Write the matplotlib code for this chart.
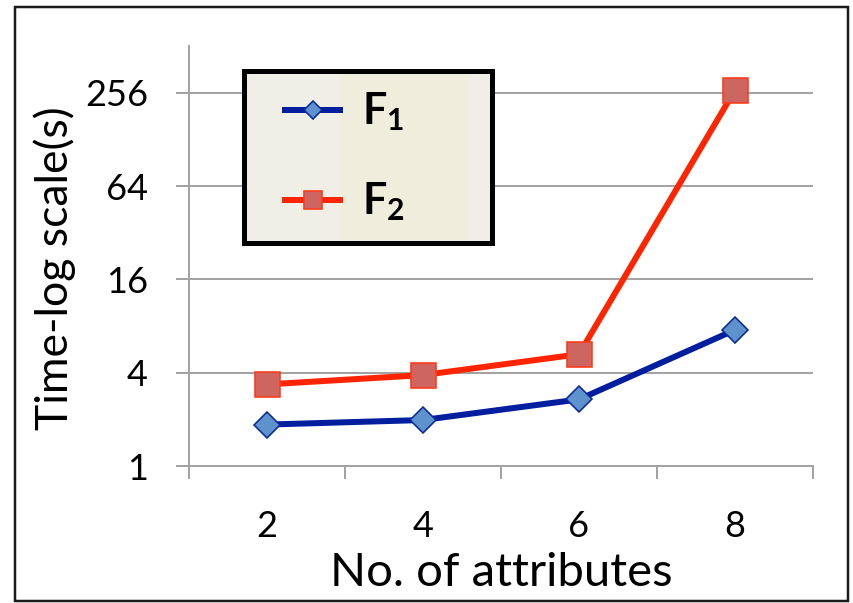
import matplotlib
matplotlib.use("Agg")
import matplotlib.pyplot as plt
from matplotlib.patches import Rectangle
from matplotlib.ticker import FixedLocator, NullFormatter, FixedFormatter

# ---- data ----
categories = ["2", "4", "6", "8"]
f1_values = [1.85, 1.98, 2.69, 7.55]
f2_values = [3.36, 3.86, 5.26, 266]
y_ticks = [1, 4, 16, 64, 256]
y_tick_labels = ["1", "4", "16", "64", "256"]
series_names = ["F$_\\mathbf{1}$", "F$_\\mathbf{2}$"]

plt.rcParams['font.family'] = ['Lato', 'DejaVu Sans']
plt.rcParams['mathtext.fontset'] = 'custom'
plt.rcParams['mathtext.rm'] = 'Lato'
plt.rcParams['mathtext.bf'] = 'Lato:bold'
plt.rcParams['mathtext.it'] = 'Lato:italic'

W, H = 854, 603
dpi = 100
fig = plt.figure(figsize=(W / dpi, H / dpi), dpi=dpi)
px = 72.0 / dpi  # points per pixel

def fx(x):
    return x / W

def fy(y):
    return 1 - y / H

ax_l, ax_r, ax_t, ax_b = 189, 813, 46, 466
ax = fig.add_axes([fx(ax_l), fy(ax_b), (ax_r - ax_l) / W, (ax_b - ax_t) / H])

grid_col = "#A3A3A3"
xs = list(range(len(categories)))

ax.set_yscale('log', base=2)
ax.set_ylim(1, 512)
ax.set_xlim(-0.5, len(categories) - 0.5)

ax.yaxis.set_major_locator(FixedLocator(y_ticks))
ax.yaxis.set_major_formatter(FixedFormatter(y_tick_labels))
ax.yaxis.set_minor_locator(FixedLocator([]))
ax.grid(axis='y', color=grid_col, linewidth=2.0 * px, zorder=0)

ax.xaxis.set_major_locator(FixedLocator([i - 0.5 for i in range(len(categories) + 1)]))
ax.xaxis.set_major_formatter(NullFormatter())
ax.xaxis.set_minor_locator(FixedLocator(xs))
ax.xaxis.set_minor_formatter(FixedFormatter(categories))

ax.tick_params(axis='x', which='major', length=13 * px, width=2 * px, color=grid_col, direction='out')
ax.tick_params(axis='x', which='minor', length=0, labelsize=26, pad=31 * px + 13 * px)
ax.tick_params(axis='y', which='major', length=13 * px, width=2 * px, color=grid_col, labelsize=26, pad=28 * px)

for s in ['top', 'right']:
    ax.spines[s].set_visible(False)
for s in ['left', 'bottom']:
    ax.spines[s].set_color(grid_col)
    ax.spines[s].set_linewidth(2.0 * px)

l1, = ax.plot(xs, f1_values, color="#001E9E", linewidth=6 * px, marker='D',
              markersize=13, markerfacecolor="#5E92CC", markeredgecolor="#0A2A9A",
              markeredgewidth=1.6 * px, zorder=3, clip_on=False)
l2, = ax.plot(xs, f2_values, color="#FF2400", linewidth=6 * px, marker='s',
              markersize=18, markerfacecolor="#CD6560", markeredgecolor="#FF3A1A",
              markeredgewidth=1.6 * px, zorder=3, clip_on=False)

ax.set_xlabel("No. of attributes", fontsize=34)
ax.xaxis.set_label_coords(0.5, -(586 - ax_b) / (ax_b - ax_t), transform=ax.transAxes)
ax.xaxis.label.set_va('baseline')
ax.set_ylabel("Time-log scale(s)", fontsize=32)
ax.yaxis.set_label_coords((55 - ax_l) / (ax_r - ax_l), (ax_b - 268) / (ax_b - ax_t))
ax.yaxis.label.set_va('center')

# legend box
lx0, ly0, lx1, ly1 = 244, 71, 492, 243
fig.add_artist(Rectangle((fx(lx0), fy(ly1)), (lx1 - lx0) / W, (ly1 - ly0) / H,
                         transform=fig.transFigure, facecolor="#EFEFE7",
                         edgecolor="none", zorder=5))
fig.add_artist(Rectangle((fx(340), fy(ly1 - 3)), (468 - 340) / W, (ly1 - ly0 - 6) / H,
                         transform=fig.transFigure, facecolor="#EFEEDC",
                         edgecolor="none", zorder=5))
fig.add_artist(Rectangle((fx(lx0), fy(ly1)), (lx1 - lx0) / W, (ly1 - ly0) / H,
                         transform=fig.transFigure, facecolor="none",
                         edgecolor="black", linewidth=5 * px, zorder=6))

leg = fig.legend([l1, l2], series_names, loc='center left',
                 bbox_to_anchor=(fx(285), fy(157)), frameon=False,
                 prop={'family': 'Lato', 'weight': 'bold', 'size': 31},
                 handlelength=1.28, handletextpad=0.5, labelspacing=1.1,
                 borderpad=0, borderaxespad=0)
leg.set_zorder(7)
for h in leg.legend_handles:
    h.set_markersize(h.get_markersize() * 0.72)

# outer border
fig.add_artist(Rectangle((fx(15), fy(601)), (848 - 15) / W, (601 - 7) / H,
                         transform=fig.transFigure, facecolor="none",
                         edgecolor="#1A1A1A", linewidth=2.5 * px, zorder=10))

fig.savefig("out.png", dpi=dpi)
